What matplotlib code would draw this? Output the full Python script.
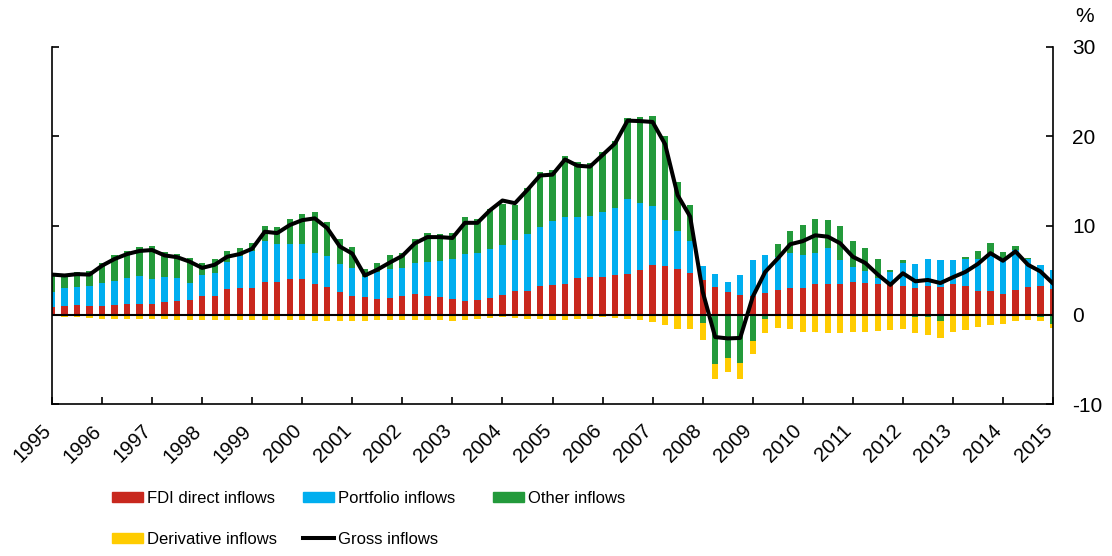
import numpy as np
import matplotlib
matplotlib.use("Agg")
import matplotlib.pyplot as plt
from matplotlib.patches import Patch
from matplotlib.lines import Line2D

plt.rcParams['font.family'] = ['Liberation Sans', 'DejaVu Sans']
plt.rcParams['axes.unicode_minus'] = False

# quarterly, 1995Q1 .. 2015Q1, %
quarters = 1995 + np.arange(81) * 0.25

fdi = [0.9, 1.0, 1.05, 1.0, 1.0, 1.05, 1.15, 1.25, 1.25, 1.4,
       1.5, 1.6, 2.05, 2.15, 2.85, 3.05, 3.05, 3.7, 3.65, 4.0,
       4.0, 3.5, 3.1, 2.55, 2.15, 1.95, 1.8, 1.9, 2.1, 2.3,
       2.1, 2.0, 1.75, 1.5, 1.7, 1.9, 2.2, 2.65, 2.7, 3.2,
       3.35, 3.5, 4.1, 4.2, 4.2, 4.5, 4.6, 5.0, 5.6, 5.45,
       5.1, 4.65, 3.85, 3.1, 2.6, 2.2, 2.15, 2.4, 2.8, 3.0,
       3.0, 3.4, 3.5, 3.45, 3.65, 3.55, 3.45, 3.3, 3.2, 3.0,
       3.2, 3.1, 3.45, 3.2, 2.65, 2.65, 2.3, 2.8, 3.1, 3.2,
       2.85]

portfolio = [1.7, 2.0, 2.05, 2.2, 2.6, 2.75, 2.95, 3.1, 2.75, 2.8,
             2.6, 2.0, 2.45, 2.55, 3.05, 3.55, 4.1, 4.6, 4.25, 3.9,
             3.9, 3.45, 3.5, 3.1, 3.05, 2.25, 3.0, 3.2, 3.1, 3.5,
             3.8, 4.0, 4.45, 5.3, 5.2, 5.5, 5.6, 5.75, 6.3, 6.6,
             7.1, 7.4, 6.9, 6.9, 7.3, 7.5, 8.4, 7.5, 6.6, 5.15,
             4.3, 3.6, 1.6, 1.45, 1.05, 2.2, 3.95, 4.25, 3.65, 3.9,
             3.75, 3.55, 4.0, 2.65, 1.65, 1.4, 0.65, 1.5, 2.6, 2.7,
             3.0, 3.05, 2.65, 3.0, 3.65, 4.25, 4.05, 4.4, 3.2, 2.4,
             2.15]

other = [1.9, 1.2, 1.7, 1.65, 2.25, 2.9, 3.05, 3.25, 3.65, 2.8,
         2.75, 2.75, 1.3, 1.5, 1.2, 0.85, 0.85, 1.65, 1.95, 2.85,
         3.4, 4.55, 3.75, 2.8, 2.35, 0.9, 1.0, 1.55, 1.7, 2.7,
         3.3, 3.1, 3.0, 4.1, 3.8, 4.5, 4.6, 3.95, 5.2, 6.2,
         5.75, 6.9, 6.1, 5.9, 6.7, 7.5, 9.1, 9.7, 10.1, 9.4,
         5.45, 4.1, -0.95, -5.55, -4.8, -5.45, -2.95, -0.5, 1.45, 2.5,
         3.35, 3.75, 3.1, 3.9, 3.0, 2.5, 2.2, 0.25, 0.35, -0.25,
         -0.25, -0.75, 0.0, 0.3, 0.8, 1.1, 0.65, 0.55, 0.1, -0.25,
         -1.0]

derivative = [-0.1, -0.2, -0.3, -0.35, -0.45, -0.45, -0.45, -0.45, -0.45, -0.5,
              -0.55, -0.55, -0.55, -0.6, -0.6, -0.6, -0.6, -0.6, -0.6, -0.6,
              -0.6, -0.7, -0.7, -0.7, -0.7, -0.7, -0.6, -0.55, -0.6, -0.6,
              -0.6, -0.6, -0.7, -0.6, -0.45, -0.35, -0.2, -0.35, -0.45, -0.45,
              -0.6, -0.55, -0.45, -0.45, -0.25, -0.35, -0.45, -0.6, -0.8, -1.2,
              -1.6, -1.55, -1.85, -1.7, -1.6, -1.75, -1.5, -1.55, -1.5, -1.6,
              -1.9, -1.9, -2.0, -2.05, -1.95, -1.9, -1.8, -1.7, -1.6, -1.8,
              -2.05, -1.85, -1.95, -1.7, -1.4, -1.1, -1.0, -0.7, -0.6, -0.5,
              -0.5]

gross = [4.5, 4.4, 4.55, 4.5, 5.5, 6.25, 6.8, 7.15, 7.25, 6.65,
         6.45, 5.95, 5.25, 5.6, 6.5, 6.8, 7.4, 9.3, 9.15, 10.05,
         10.6, 10.8, 9.7, 7.65, 6.85, 4.4, 5.05, 5.85, 6.6, 8.0,
         8.7, 8.7, 8.6, 10.3, 10.3, 11.7, 12.8, 12.5, 14.0, 15.6,
         15.7, 17.4, 16.7, 16.6, 17.9, 19.2, 21.75, 21.7, 21.6, 19.1,
         13.4, 11.0, 2.6, -2.5, -2.65, -2.6, 2.0, 4.8, 6.3, 7.9,
         8.25, 8.9, 8.75, 8.0, 6.5, 5.8, 4.5, 3.35, 4.65, 3.75,
         3.9, 3.55, 4.2, 4.8, 5.7, 6.9, 6.05, 7.1, 5.6, 4.85,
         3.5]

year_ticks = list(range(1995, 2016))

c_fdi = '#C8281E'
c_port = '#00AEEF'
c_other = '#239A3B'
c_deriv = '#FFCC00'

fdi = np.array(fdi)
portfolio = np.array(portfolio)
other = np.array(other)
derivative = np.array(derivative)

# other inflows go below zero in some quarters; derivatives stack under them
other_pos = np.where(other > 0, other, 0)
other_neg = np.where(other < 0, other, 0)

fig = plt.figure(figsize=(11.12, 5.56), dpi=100)
ax = fig.add_axes([52 / 1112, 1 - 404 / 556, 1001 / 1112, 357 / 556])

w = 0.125
ax.bar(quarters, fdi, w, color=c_fdi, zorder=2)
ax.bar(quarters, portfolio, w, bottom=fdi, color=c_port, zorder=2)
ax.bar(quarters, other_pos, w, bottom=fdi + portfolio, color=c_other, zorder=2)
ax.bar(quarters, other_neg, w, color=c_other, zorder=2)
ax.bar(quarters, derivative, w, bottom=other_neg, color=c_deriv, zorder=2)

ax.axhline(0, color='black', lw=1.5, zorder=3)
ax.plot(quarters, gross, color='black', lw=2.9, zorder=4, solid_joinstyle='round')

ax.set_xlim(1995, 2015)
ax.set_ylim(-10, 30)
ax.set_yticks([-10, 0, 10, 20, 30])
ax.set_xticks(year_ticks)
ax.set_xticklabels([str(y) for y in year_ticks], rotation=45, ha='right',
                   va='baseline', rotation_mode='anchor', fontsize=14.5)

ax.spines['top'].set_visible(False)
for s in ['left', 'right', 'bottom']:
    ax.spines[s].set_linewidth(1.2)

ax.tick_params(axis='y', direction='in', left=True, right=True,
               labelleft=False, labelright=True, labelsize=15,
               length=5, width=1.2, pad=14)
ax.tick_params(axis='x', direction='in', length=5, width=1.2, pad=20)

fig.text(1085 / 1112, 1 - 17 / 556, '%', ha='center', va='center', fontsize=15)

# legend: three columns, each placed under the chart like the original
leg_kw = dict(loc='upper left', frameon=False, fontsize=12,
              handlelength=1.85, handleheight=0.56, handletextpad=0.25,
              labelspacing=1.55, borderpad=0, borderaxespad=0)
columns = [
    ([Patch(color=c_fdi), Patch(color=c_deriv)],
     ['FDI direct inflows', 'Derivative inflows'], 112),
    ([Patch(color=c_port), Line2D([], [], color='black', lw=2.9)],
     ['Portfolio inflows', 'Gross inflows'], 303),
    ([Patch(color=c_other)], ['Other inflows'], 493),
]
for handles, labels, x0 in columns:
    fig.legend(handles, labels, bbox_to_anchor=(x0 / 1112, 1 - 491 / 556), **leg_kw)

fig.savefig('out.png', dpi=100)
